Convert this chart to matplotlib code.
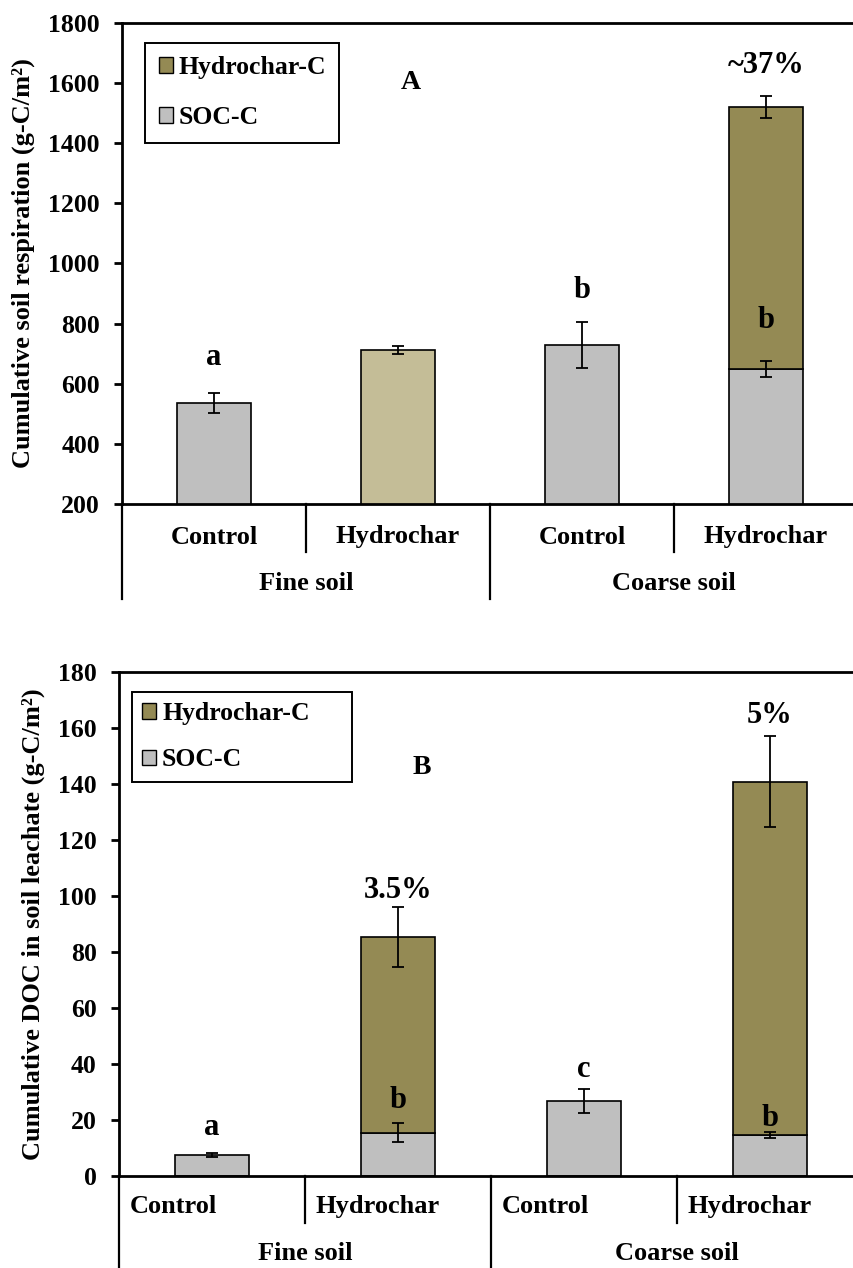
import numpy as np
import matplotlib
matplotlib.use("Agg")
import matplotlib.pyplot as plt
from matplotlib.patches import Patch
from matplotlib.lines import Line2D
from matplotlib.transforms import blended_transform_factory

plt.rcParams['font.family'] = ['Liberation Serif', 'DejaVu Serif']
plt.rcParams['font.weight'] = 'bold'
plt.rcParams['axes.labelweight'] = 'bold'

# ---------------- data ----------------
treatments = ["Control", "Hydrochar", "Control", "Hydrochar"]
soils = ["Fine soil", "Coarse soil"]

# Panel A: cumulative soil respiration (g-C/m2)
resp_soc = [535, np.nan, 728, 648]
resp_soc_err = [33, np.nan, 76, 27]
resp_total = [np.nan, 712, np.nan, 1519]
resp_total_err = [np.nan, 13, np.nan, 37]
resp_letters = ["a", "", "b", "b"]
resp_pct = ["", "", "", "~37%"]

# Panel B: cumulative DOC in soil leachate (g-C/m2)
doc_soc = [7.5, 15.4, 26.8, 14.6]
doc_soc_err = [0.8, 3.4, 4.3, 1.0]
doc_total = [np.nan, 85.5, np.nan, 140.8]
doc_total_err = [np.nan, 10.7, np.nan, 16.2]
doc_letters = ["a", "b", "c", "b"]
doc_pct = ["", "3.5%", "", "5%"]

# ---------------- style ----------------
C_SOC = "#BFBFBF"
C_HC = "#948A54"
C_HC_ONLY = "#C4BD97"
W, H = 854, 1268

fig = plt.figure(figsize=(W / 100, H / 100), dpi=100)


def fy(px):
    return 1 - px / H


def panel(rect, ylim, yticks, soc, soc_err, tot, tot_err, letters, pct,
          letter_gap, pct_gap, ylabel, ylab_xy, panel_lab, panel_xy,
          leg_box, cat_y, soil_y, short_end, long_end, cat_left):
    l, t, r, b = rect
    ax = fig.add_axes([l / W, fy(b), (r - l) / W, (b - t) / H])
    x = np.arange(len(treatments))
    soc = np.array(soc, float)
    tot = np.array(tot, float)
    bw = 0.40
    for i in range(len(x)):
        if np.isnan(soc[i]):
            ax.bar(x[i], tot[i], bw, color=C_HC_ONLY, edgecolor="black", linewidth=1.2, zorder=2)
        else:
            ax.bar(x[i], soc[i], bw, color=C_SOC, edgecolor="black", linewidth=1.2, zorder=2)
            if not np.isnan(tot[i]):
                ax.bar(x[i], tot[i] - soc[i], bw, bottom=soc[i], color=C_HC,
                       edgecolor="black", linewidth=1.2, zorder=2)
    ekw = dict(fmt="none", ecolor="black", elinewidth=1.3, capsize=4.5, capthick=1.3, zorder=3)
    ax.errorbar(x, soc, yerr=np.array(soc_err, float), **ekw)
    ax.errorbar(x, tot, yerr=np.array(tot_err, float), **ekw)

    for i in range(len(x)):
        if letters[i]:
            ax.annotate(letters[i], xy=(x[i], soc[i] + soc_err[i]), xytext=(0, letter_gap[i] * 0.72),
                        textcoords="offset points", ha="center", va="baseline", fontsize=22)
        if pct[i]:
            ax.annotate(pct[i], xy=(x[i], tot[i] + tot_err[i]), xytext=(0, pct_gap[i] * 0.72),
                        textcoords="offset points", ha="center", va="baseline", fontsize=22)

    ax.set_xlim(-0.5, 3.5)
    ax.set_ylim(*ylim)
    ax.set_yticks(yticks)
    ax.set_xticks([])
    for s in ax.spines.values():
        s.set_linewidth(2)
    ax.tick_params(axis="y", direction="out", length=5.5, width=2, pad=10.5, labelsize=18.5)

    ax.set_ylabel(ylabel, fontsize=19, fontweight="bold")
    ax.yaxis.set_label_coords(ylab_xy[0] / W, fy(ylab_xy[1]), transform=fig.transFigure)
    ax.yaxis.label.set_va("center")
    ax.yaxis.label.set_ha("center")

    ax.text(panel_xy[0], panel_xy[1], panel_lab, ha="center", va="center", fontsize=20)

    blend = blended_transform_factory(ax.transData, fig.transFigure)
    for i, name in enumerate(treatments):
        if cat_left:
            ax.annotate(name, xy=(i - 0.5, fy(cat_y)), xycoords=blend, xytext=(7.5, 0),
                        textcoords="offset points", ha="left", va="center", fontsize=19)
        else:
            ax.text(i, fy(cat_y), name, transform=blend, ha="center", va="center", fontsize=19)
    for j, name in enumerate(soils):
        ax.text(2 * j + 0.5, fy(soil_y), name, transform=blend, ha="center", va="center", fontsize=19)
    for k, xb in enumerate([-0.5, 0.5, 1.5, 2.5]):
        end = long_end if k % 2 == 0 else short_end
        fig.add_artist(Line2D([xb, xb], [fy(b), fy(end)], transform=blend, color="black",
                              linewidth=1.6, clip_on=False))

    handles = [Patch(facecolor=C_HC, edgecolor="black", linewidth=1.0),
               Patch(facecolor=C_SOC, edgecolor="black", linewidth=1.0)]
    lx0, ly0, lx1, lsp, lbp = leg_box
    leg = ax.legend(handles, ["Hydrochar-C", "SOC-C"], loc="upper left",
                    bbox_to_anchor=(lx0 / W, fy(ly0), (lx1 - lx0) / W, 0),
                    bbox_transform=fig.transFigure, mode="expand", borderaxespad=0,
                    fontsize=18.5, handlelength=0.55, handleheight=0.55, handletextpad=0.22,
                    labelspacing=lsp, borderpad=lbp, fancybox=False, framealpha=1,
                    edgecolor="black")
    leg.get_frame().set_linewidth(1.4)
    return ax


panel((122, 22.7, 858, 504), (200, 1800), np.arange(200, 1801, 200),
      resp_soc, resp_soc_err, resp_total, resp_total_err, resp_letters, resp_pct,
      [28.7, 0, 24.6, 33.6], [0, 0, 0, 23],
      "Cumulative soil respiration (g-C/m²)", (23.5, 263), "A", (1.07, 1600),
      (145, 42.7, 339, 1.05, 0.53), 537, 583, 551.7, 599, False)

panel((119, 672, 863, 1176), (0, 180), np.arange(0, 181, 20),
      doc_soc, doc_soc_err, doc_total, doc_total_err, doc_letters, doc_pct,
      [17.7, 15.4, 12.3, 6.7], [0, 8.4, 0, 13.4],
      "Cumulative DOC in soil leachate (g-C/m²)", (33, 924), "B", (1.13, 146),
      (131.7, 691.7, 351.7, 0.9, 0.41), 1206.7, 1253, 1223, 1290, True)

fig.savefig("out.png", dpi=100)
